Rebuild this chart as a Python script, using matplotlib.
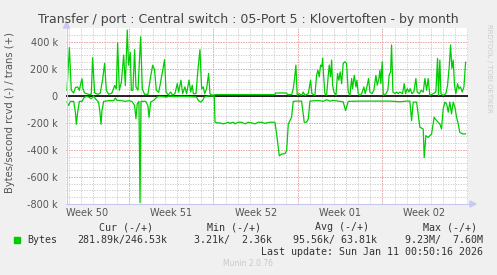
import matplotlib
matplotlib.use("Agg")
import matplotlib.pyplot as plt

# time in days from left edge of graph, values in k bytes/s
trans_t = [0.08, 0.28, 0.44, 0.64, 0.78, 0.97, 1.11, 1.25, 1.33, 1.41, 1.55, 1.88, 2.10, 2.21, 2.38,
           2.66, 2.85, 3.05, 3.21, 3.35, 3.54, 3.82, 4.04, 4.18, 4.29, 4.43, 4.60, 4.79, 4.93, 5.09,
           5.20, 5.34, 5.43, 5.56, 5.70, 5.81, 5.98, 6.20, 6.34, 6.53, 6.81, 7.00, 7.20, 7.36, 7.50,
           7.70, 7.86, 8.19, 8.31, 8.50, 8.69, 8.86, 9.05, 9.25, 9.36, 9.55, 9.69, 9.88, 10.02, 10.22,
           10.36, 10.49, 10.58, 10.80, 10.96, 11.13, 11.27, 11.41, 11.52, 11.68, 11.85, 11.96, 12.10,
           12.32, 12.38, 17.36, 17.40, 18.33, 18.40, 18.75, 18.88, 18.99, 19.10, 19.21, 19.38, 19.57,
           19.71, 19.85, 20.13, 20.32, 20.43, 20.68, 20.82, 20.93, 21.04, 21.15, 21.26, 21.32, 21.40,
           21.51, 21.65, 21.79, 21.87, 21.98, 22.07, 22.15, 22.26, 22.43, 22.56, 22.67, 22.78, 22.90,
           23.03, 23.17, 23.31, 23.45, 23.59, 23.73, 23.81, 23.95, 24.09, 24.17, 24.28, 24.42, 24.56,
           24.75, 24.86, 25.03, 25.14, 25.25, 25.42, 25.58, 25.75, 25.86, 26.00, 26.08, 26.16, 26.27,
           26.36, 26.58, 26.74, 26.85, 26.97, 27.05, 27.16, 27.33, 27.46, 27.60, 27.74, 27.96, 28.10,
           28.21, 28.35, 28.49, 28.60, 28.74, 28.90, 29.07, 29.18, 29.35, 29.51, 29.68, 29.82, 29.96,
           30.09, 30.23, 30.51, 30.73, 30.87, 30.95, 31.06, 31.15, 31.34, 31.56, 31.70, 31.84, 31.95,
           32.06, 32.17, 32.28, 32.39, 32.53, 32.64, 32.78, 32.92, 33.06, 33.20]
trans_v = [40, 355, 40, 20, 60, 65, 40, 100, 125, 50, 20, 10, 10, 280, 20,
           10, 20, 125, 240, 40, 10, 20, 75, 50, 390, 40, 100, 300, 75, 485,
           225, 320, 40, 40, 340, 65, 40, 435, 50, 10, 10, 125, 225, 190, 40,
           25, 100, 266, 27, 5, 27, 5, 15, 90, 27, 115, 15, 65, 15, 115,
           27, 77, 15, 15, 190, 340, 50, 65, 15, 50, 165, 15, 5,
           5, 8, 8, 20, 20, 8, 8, 52, 127, 226, 2, 15, 2,
           27, 2, 15, 115, 15, 2, 151, 189, 139, 226, 214, 276, 151,
           15, 2, 151, 226, 139, 263, 77, 27, 2, 164, 114, 176, 89,
           238, 251, 238, 27, 2, 127, 52, 151, 64, 114, 15, 2, 15,
           64, 15, 77, 127, 27, 15, 40, 151, 77, 127, 189, 89, 251,
           2, 15, 40, 151, 176, 375, 27, 15, 27, 15, 27, 15, 89,
           15, 52, 27, 52, 15, 27, 127, 27, 15, 40, 27, 127, 40,
           127, 2, 15, 27, 276, 2, 263, 15, 2, 15, 77, 214, 375,
           201, 263, 77, 15, 89, 52, 64, 27, 64, 247]

rcvd_t = [0.08, 0.22, 0.36, 0.64, 0.78, 0.86, 0.97, 1.11, 1.33, 1.47, 1.66, 1.88, 2.10, 2.30, 2.44,
          2.71, 2.82, 2.91, 2.99, 3.13, 3.54, 3.96, 4.10, 4.24, 4.51, 4.93, 5.20, 5.48, 5.70, 5.81,
          5.92, 6.06, 6.15, 6.23, 6.34, 6.62, 6.80, 6.90, 7.03, 7.28, 7.56, 7.81, 8.36, 8.64, 8.91,
          9.47, 10.02, 10.85, 10.99, 11.18, 11.35, 11.49, 11.82, 12.32, 12.38, 12.57, 12.79, 13.07,
          13.34, 13.48, 13.62, 13.90, 14.04, 14.31, 14.59, 14.87, 15.14, 15.42, 15.70, 15.97, 16.25,
          16.53, 16.94, 17.36, 17.50, 17.72, 17.91, 18.19, 18.33, 18.47, 18.60, 18.74, 18.88, 19.16,
          19.57, 19.71, 19.79, 19.99, 20.13, 20.27, 20.68, 21.10, 21.37, 21.65, 21.93, 22.20, 22.62,
          23.03, 23.23, 23.45, 24.42, 25.80, 26.91, 27.74, 28.29, 28.57, 28.71, 28.85, 29.13, 29.40,
          29.68, 29.76, 29.90, 30.09, 30.37, 30.59, 30.79, 31.06, 31.20, 31.34, 31.48, 31.62, 31.76,
          31.89, 32.03, 32.17, 32.31, 32.45, 32.59, 32.72, 33.00, 33.20]
rcvd_v = [-47, -72, -42, -42, -122, -211, -122, -42, -42, -17, -5, -10, -22, -2, -22,
          -47, -122, -211, -109, -42, -37, -37, -17, -35, -35, -42, -37, -42, -72, -170,
          -60, -42, -790, -42, -42, -42, -72, -160, -47, -35, -10, -5, -10, -2, -7,
          -5, -5, -10, -35, -47, -35, -10, -2, -2, -195, -201, -201, -208,
          -201, -196, -204, -196, -208, -196, -196, -208, -196, -201, -208, -196, -196,
          -204, -196, -196, -283, -444, -432, -427, -407, -209, -184, -159, -42, -40,
          -40, -134, -196, -196, -171, -40, -37, -37, -42, -30, -40, -35, -40,
          -45, -110, -42, -40, -40, -40, -45, -40, -40, -184, -47, -47, -233,
          -246, -457, -295, -308, -283, -159, -184, -209, -246, -97, -47, -60, -122,
          -47, -134, -47, -84, -159, -209, -271, -283, -282]

yticks = [-800, -600, -400, -200, 0, 200, 400]
week_starts = [5.23, 12.25, 19.27, 26.29]
week_labels = ["Week 50", "Week 51", "Week 52", "Week 01", "Week 02"]

W, H = 497, 275
def fx(x):
    return x / W
def fy(y):
    return 1 - y / H

fig = plt.figure(figsize=(W / 100, H / 100), dpi=100)
fig.patch.set_facecolor('#F0F0F0')
ax = fig.add_axes([fx(66), fy(204), (468 - 66) / W, (204 - 28) / H])
ax.set_facecolor('white')
ax.set_xlim(0, 33.4)
ax.set_ylim(-800, 500)

# grid: minor gray, major red (dotted like rrdtool)
dot = (0, (1.3, 1.3))
for d in range(34):
    x = 5.23 + (d - 5) * 1.003
    if 0 < x < 33.4:
        ax.axvline(x, color='#CFCFCF', lw=0.7, ls=dot, zorder=0)
for v in range(-750, 500, 50):
    ax.axhline(v, color='#CFCFCF', lw=0.7, ls=dot, zorder=0)
for x in week_starts:
    ax.axvline(x, color='#F0A0A0', lw=0.7, ls=dot, zorder=1)
for v in yticks[1:]:
    ax.axhline(v, color='#F0A0A0', lw=0.7, ls=dot, zorder=1)

ax.axhline(0, color='black', lw=1.2, zorder=2)
ax.plot(rcvd_t, rcvd_v, color='#00CC00', lw=0.9, zorder=3)
ax.plot(trans_t, trans_v, color='#00CC00', lw=0.9, zorder=3)

for s in ax.spines.values():
    s.set_visible(False)
ax.set_yticks(yticks, [("%d k" % v) if v != 0 else "0" for v in yticks])
mids = [w - 3.5 for w in week_starts] + [week_starts[-1] + 3.5]
ax.set_xticks(mids, week_labels)
ax.tick_params(length=0, labelsize=7, colors='#555555')
ax.tick_params(axis='y', pad=6)
ax.tick_params(axis='x', pad=3)

# axis lines with arrows
ac = '#C8C8F0'
fig.add_artist(plt.Line2D([fx(66.5), fx(66.5)], [fy(204), fy(27)], color=ac, lw=0.8))
fig.add_artist(plt.Line2D([fx(66), fx(471)], [fy(204), fy(204)], color=ac, lw=0.8))
fig.add_artist(plt.Polygon([[fx(63.5), fy(28)], [fx(69.5), fy(28)], [fx(66.5), fy(22)]], color=ac))
fig.add_artist(plt.Polygon([[fx(470), fy(201)], [fx(470), fy(207)], [fx(476), fy(204)]], color=ac))

fig.text(fx(248), fy(19), "Transfer / port : Central switch : 05-Port 5 : Klovertoften - by month",
         ha='center', va='center', fontsize=9, color='#444444')
fig.text(fx(10), fy(113), "Bytes/second rcvd (-) / trans (+)", rotation=90,
         ha='center', va='center', fontsize=7.2, color='#555555')
fig.text(fx(489), fy(24), "RRDTOOL / TOBI OETIKER", rotation=270, ha='center', va='top',
         fontsize=5, color='#CCCCCC')

mono = dict(family='DejaVu Sans Mono', fontsize=7.2, color='#333333', va='center', ha='left')
fig.text(fx(99), fy(227), "Cur (-/+)", **mono)
fig.text(fx(207), fy(227), "Min (-/+)", **mono)
fig.text(fx(315), fy(227), "Avg (-/+)", **mono)
fig.text(fx(423), fy(227), "Max (-/+)", **mono)
fig.add_artist(plt.Rectangle((fx(14), fy(243)), 6 / W, 6 / H, color='#00CC00'))
fig.text(fx(27), fy(240), "Bytes", **mono)
fig.text(fx(77), fy(240), "281.89k/246.53k", **mono)
fig.text(fx(194), fy(240), "3.21k/  2.36k", **mono)
fig.text(fx(293), fy(240), "95.56k/ 63.81k", **mono)
fig.text(fx(405), fy(240), "9.23M/  7.60M", **mono)
fig.text(fx(483), fy(252), "Last update: Sun Jan 11 00:50:16 2026",
         family='DejaVu Sans Mono', fontsize=7.2, color='#333333', va='center', ha='right')
fig.text(fx(248), fy(263), "Munin 2.0.76", ha='center', va='center', fontsize=5.5, color='#C8C8C8')

fig.savefig("out.png", dpi=100, facecolor=fig.get_facecolor())
